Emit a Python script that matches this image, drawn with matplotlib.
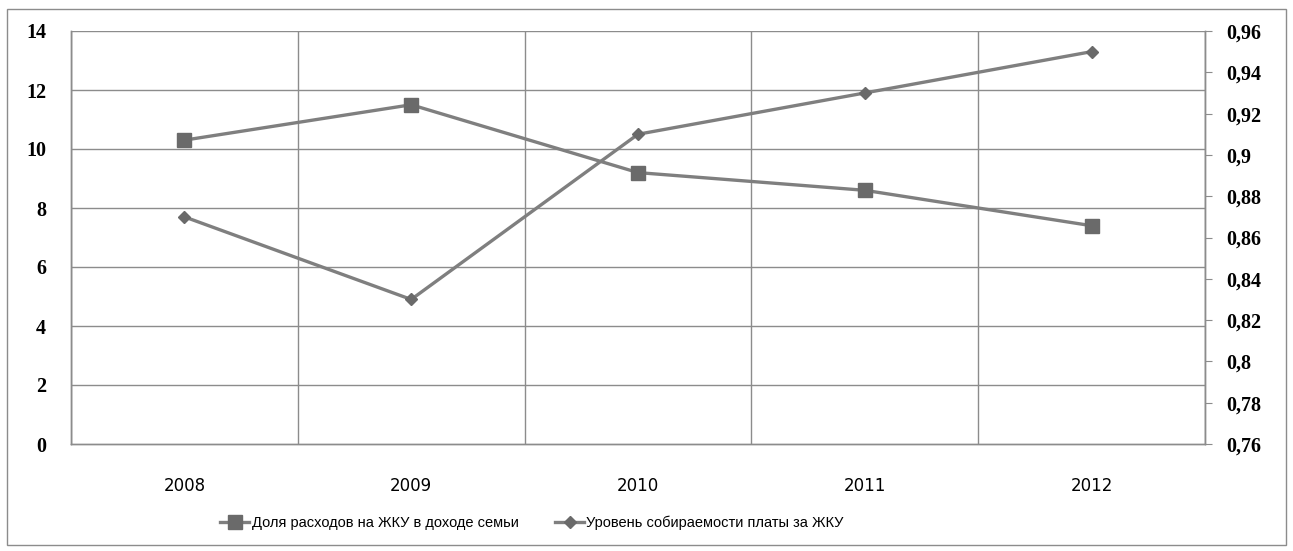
import matplotlib
matplotlib.use('Agg')
import matplotlib.pyplot as plt
from matplotlib.patches import Rectangle
from matplotlib.ticker import FuncFormatter

## data
years = ['2008', '2009', '2010', '2011', '2012']
share_costs = [10.3, 11.5, 9.2, 8.6, 7.4]          # left axis
collection_rate = [0.87, 0.83, 0.91, 0.93, 0.95]   # right axis
label_costs = 'Доля расходов на ЖКУ в доходе семьи'
label_rate = 'Уровень собираемости платы за ЖКУ'

line_col = '#7f7f7f'
mark_col = '#6a6a6a'
grid_col = '#8c8c8c'

fig = plt.figure(figsize=(12.93, 5.51), dpi=100)
ax = fig.add_axes([71/1293, 1 - 444/551, (1205 - 71)/1293, (444 - 31)/551])
ax2 = ax.twinx()

x = list(range(1, len(years) + 1))

## left series (squares)
l1, = ax.plot(x, share_costs, color=line_col, lw=2.4, marker='s', ms=10,
              mfc=mark_col, mec=mark_col, zorder=5, label=label_costs)
## right series (diamonds)
l2, = ax2.plot(x, collection_rate, color=line_col, lw=2.4, marker='D', ms=6,
               mfc=mark_col, mec=mark_col, zorder=5, label=label_rate)

ax.set_xlim(0.5, len(years) + 0.5)
ax.set_ylim(0, 14)
ax.set_yticks(range(0, 15, 2))
ax2.set_ylim(0.76, 0.96)
ax2.set_yticks([0.76 + 0.02*i for i in range(11)])

## grid: horizontal on left ticks, vertical between categories
for yv in range(2, 15, 2):
    ax.axhline(yv, color=grid_col, lw=1, zorder=0)
for xv in [i + 0.5 for i in range(len(years) + 1)]:
    ax.axvline(xv, color=grid_col, lw=1, zorder=0)

ax.set_xticks(x)
ax.set_xticklabels(years, fontfamily='DejaVu Sans', fontsize=12)
ax.tick_params(axis='x', length=0, pad=24)
ax.tick_params(axis='y', length=0, pad=18)
for t in ax.get_yticklabels():
    t.set_fontfamily('Liberation Serif')
    t.set_fontsize(14.5)
    t.set_fontweight('bold')

fmt = FuncFormatter(lambda v, p: ('%.2f' % v).rstrip('0').rstrip('.').replace('.', ','))
ax2.yaxis.set_major_formatter(fmt)
ax2.tick_params(axis='y', length=5, direction='out', color=grid_col, pad=10)
for t in ax2.get_yticklabels():
    t.set_fontfamily('Liberation Serif')
    t.set_fontsize(14.5)
    t.set_fontweight('bold')

for a in (ax, ax2):
    a.spines['top'].set_visible(False)
    for s in ('left', 'right', 'bottom'):
        a.spines[s].set_color(grid_col)
        a.spines[s].set_linewidth(1)

ax2.set_zorder(ax.get_zorder() + 1)
ax2.patch.set_visible(False)

## legend
fig.legend(handles=[l1, l2], loc='center', bbox_to_anchor=(532/1293, 1 - 523/551),
           ncol=2, frameon=False, handlelength=2.0, handletextpad=0.15,
           columnspacing=2.5, prop={'family': 'Liberation Sans', 'size': 10.5})

## outer frame
fig.patches.append(Rectangle((7/1293, 1 - 545/551), (1286 - 7)/1293, (545 - 9)/551,
                             transform=fig.transFigure, fill=False,
                             edgecolor='#8c8c8c', lw=1))

fig.savefig('out.png', dpi=100)
